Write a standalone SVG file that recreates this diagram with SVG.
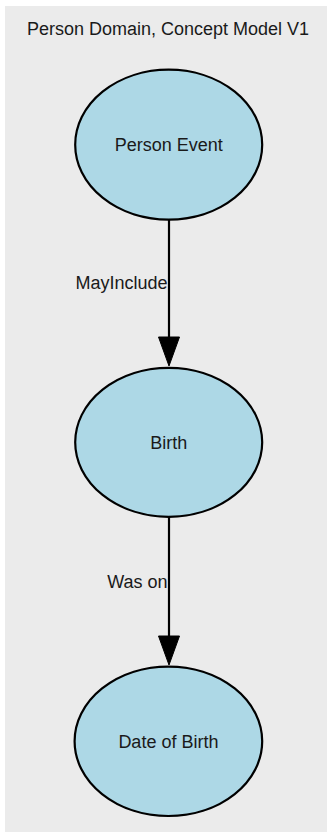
<svg xmlns="http://www.w3.org/2000/svg" width="327" height="833" viewBox="0 0 327 833">
<style>
text{font-family:"Liberation Sans",Arial,sans-serif;font-size:18px;fill:#1a1a1a}
.node ellipse{fill:#add8e6;stroke:#000;stroke-width:2.2}
.edge line{stroke:#000;stroke-width:2.2}
.edge polygon{fill:#000;stroke:#000;stroke-width:1}
</style>
<rect id="cluster" x="5" y="6" width="322" height="826" fill="#ebebeb"/>
<text x="168" y="35" text-anchor="middle">Person Domain, Concept Model V1</text>
<g id="edges">
<g class="edge" id="e1">
<line x1="169" y1="220" x2="169" y2="338"/>
<polygon points="158.5,337 179.5,337 169,366"/>
<text x="167.5" y="289" text-anchor="end">MayInclude</text>
</g>
<g class="edge" id="e2">
<line x1="169" y1="517" x2="169" y2="637"/>
<polygon points="158.5,636 179.5,636 169,665"/>
<text x="167.5" y="588" text-anchor="end">Was on</text>
</g>
</g>
<g class="node" id="person_event">
<ellipse cx="168.7" cy="144.7" rx="93.5" ry="75"/>
<text x="168.7" y="151" text-anchor="middle">Person Event</text>
</g>
<g class="node" id="birth">
<ellipse cx="168.7" cy="442.3" rx="93.5" ry="74.5"/>
<text x="168.7" y="449" text-anchor="middle">Birth</text>
</g>
<g class="node" id="date_of_birth">
<ellipse cx="168.4" cy="741.3" rx="93.8" ry="74.7"/>
<text x="168.4" y="747.5" text-anchor="middle">Date of Birth</text>
</g>
</svg>
